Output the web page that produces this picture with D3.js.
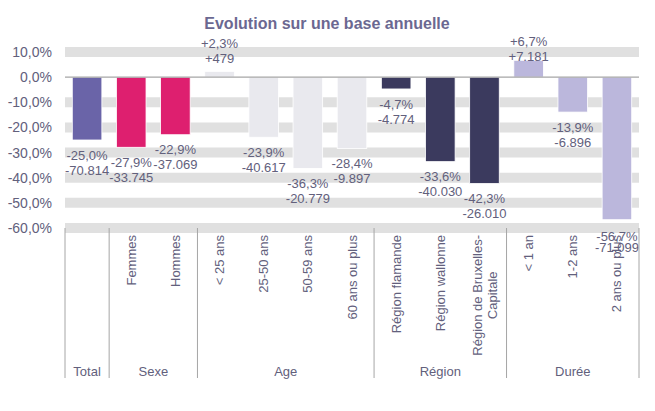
<!DOCTYPE html>
<html><head><meta charset="utf-8">
<script src="https://cdn.jsdelivr.net/npm/d3@7"></script>
<style>
body{margin:0;background:#fff;}
text{font-family:"Liberation Sans",Arial,sans-serif;}
</style></head>
<body><svg id="c" width="655" height="411"></svg>
<script>
const categories = ["Total","Femmes","Hommes","< 25 ans","25-50 ans","50-59 ans","60 ans ou plus","Région flamande","Région wallonne","Région de Bruxelles-Capitale","< 1 an","1-2 ans","2 ans ou plus"];
const catLines = [["Total"],["Femmes"],["Hommes"],["< 25 ans"],["25-50 ans"],["50-59 ans"],["60 ans ou plus"],["Région flamande"],["Région wallonne"],["Région de Bruxelles-","Capitale"],["< 1 an"],["1-2 ans"],["2 ans ou plus"]];
const groupOf = ["Total","Sexe","Sexe","Age","Age","Age","Age","Région","Région","Région","Durée","Durée","Durée"];
const groups = ["Total","Sexe","Age","Région","Durée"];
const pctValues = [-25.0,-27.9,-22.9,2.3,-23.9,-36.3,-28.4,-4.7,-33.6,-42.3,6.7,-13.9,-56.7];
const absLabels = ["-70.814","-33.745","-37.069","+479","-40.617","-20.779","-9.897","-4.774","-40.030","-26.010","+7.181","-6.896","-71.099"];
const yTicks = [10,0,-10,-20,-30,-40,-50,-60];
const groupColors = {"Total":"#6a64a8","Sexe":"#de1f6f","Age":"#e9e9ee","Région":"#3b3a5e","Durée":"#bbb7dc"};

const svg = d3.select("#c");
const L = 65, R = 639, T = 52, B = 228;
const textCol = "#62607c";
const x = d3.scaleBand().domain(categories).range([L,R]).paddingInner(0.33).paddingOuter(0.165);
const y = d3.scaleLinear().domain([10,-60]).range([T,B]);

svg.append("text").attr("x",327).attr("y",29).attr("text-anchor","middle")
  .attr("font-size",16).attr("font-weight","bold").attr("fill","#6b6891")
  .text("Evolution sur une base annuelle");

// grid bands
svg.append("g").selectAll("line").data(yTicks.filter(d=>d!==0)).join("line")
  .attr("x1",L).attr("x2",R).attr("y1",d=>y(d)).attr("y2",d=>y(d))
  .attr("stroke","#e0e0e0").attr("stroke-width",10);

// y axis labels
const yAxis = d3.axisLeft(y).tickValues(yTicks).tickSize(0).tickPadding(0)
  .tickFormat(d=>d3.format(".1f")(d).replace(".",",").replace("−","-")+"%");
const yg = svg.append("g").attr("transform",`translate(${52},0)`).call(yAxis);
yg.select(".domain").remove();
yg.selectAll("text").attr("font-size",14).attr("fill",textCol).attr("font-family","Liberation Sans, Arial, sans-serif");

// bars
svg.append("g").selectAll("rect").data(categories).join("rect")
  .attr("x",d=>x(d)).attr("width",x.bandwidth())
  .attr("y",(d,i)=>y(Math.max(0,pctValues[i])))
  .attr("height",(d,i)=>Math.abs(y(pctValues[i])-y(0)))
  .attr("fill",(d,i)=>groupColors[groupOf[i]])
  .attr("stroke","#fff").attr("stroke-width",0.8);

// zero line
svg.append("line").attr("x1",L).attr("x2",R).attr("y1",y(0)).attr("y2",y(0))
  .attr("stroke","#a6a6a6").attr("stroke-width",1.2);

// data labels
const fmtPct = v => (v>0?"+":"")+v.toFixed(1).replace(".",",")+"%";
const lab = svg.append("g").attr("font-size",13).attr("fill",textCol);
categories.forEach((c,i)=>{
  const v = pctValues[i];
  let cx = x(c)+x.bandwidth()/2, anchor="middle";
  let y1, y2;
  if (v>=0){
    y2 = Math.max(y(v)-13, 56); y1 = y2-15;
  } else {
    y1 = y(v)+15; y2 = y(v)+30;
    if (y2 > 248){ y2 = 247.5; y1 = 236; }
  }
  if (cx+21 > R){ cx = R-1; anchor="end"; }
  lab.append("text").attr("x",cx).attr("y",y1).attr("dy","0.35em").attr("text-anchor",anchor).text(fmtPct(v));
  lab.append("text").attr("x",cx).attr("y",y2).attr("dy","0.35em").attr("text-anchor",anchor).text(absLabels[i]);
});

// category labels (rotated)
const labTop = 235;
const cl = svg.append("g").attr("font-size",13).attr("fill",textCol);
categories.forEach((c,i)=>{
  if (groupOf[i]==="Total") return;
  const lines = catLines[i];
  const cx = x(c)+x.bandwidth()/2;
  const n = lines.length;
  const tmp = cl.append("text").text(lines[0]);
  const len = tmp.node().getComputedTextLength(); tmp.remove();
  lines.forEach((ln,k)=>{
    const off = (k-(n-1)/2)*15;
    cl.append("text").attr("transform",`translate(${cx+off},${labTop+len/2}) rotate(-90)`)
      .attr("text-anchor","middle").attr("dy","0.35em").text(ln);
  });
});

// group separators and labels
const bounds = [];
groups.forEach(g=>{
  const idx = groupOf.map((d,i)=>d===g?i:-1).filter(i=>i>=0);
  const s = x(categories[idx[0]]) - x.step()*x.paddingInner()/2;
  const e = x(categories[idx[idx.length-1]]) + x.bandwidth() + x.step()*x.paddingInner()/2;
  bounds.push([g,s,e]);
});
const sepXs = [L].concat(bounds.map(b=>b[2]));
svg.append("g").selectAll("line").data(sepXs).join("line")
  .attr("x1",d=>Math.min(d,R)).attr("x2",d=>Math.min(d,R)).attr("y1",B).attr("y2",378)
  .attr("stroke","#a6a6a6").attr("stroke-width",1);
svg.append("g").attr("font-size",13).attr("fill",textCol).selectAll("text").data(bounds).join("text")
  .attr("x",d=>(Math.max(d[1],L)+Math.min(d[2],R))/2).attr("y",371).attr("dy","0.35em")
  .attr("text-anchor","middle").text(d=>d[0]);
</script></body></html>
